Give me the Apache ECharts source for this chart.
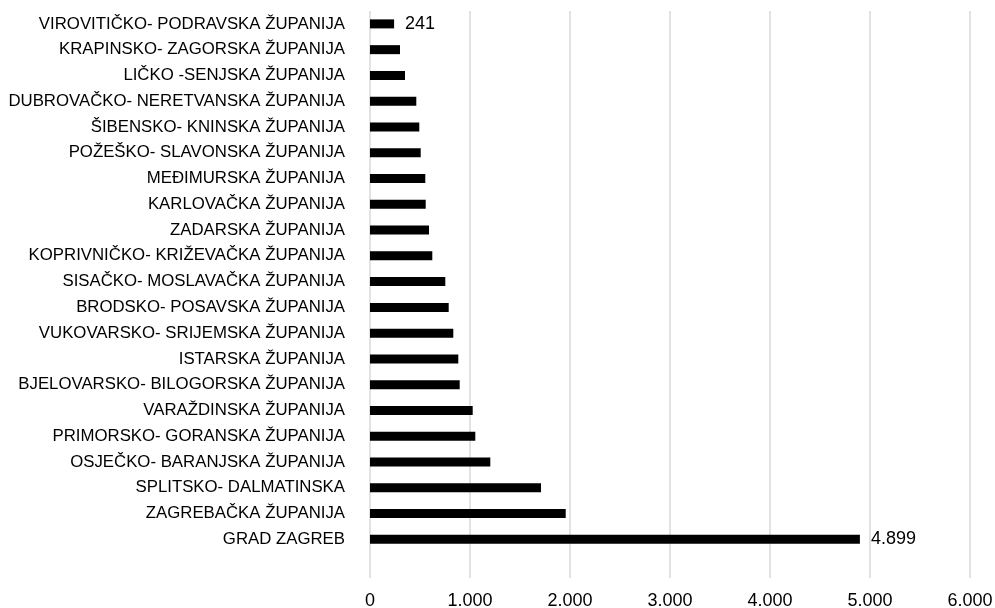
<!DOCTYPE html>
<html>
<head>
<meta charset="utf-8">
<script src="https://cdn.jsdelivr.net/npm/echarts@6/dist/echarts.min.js"></script>
<style>
  html, body { margin: 0; padding: 0; background: #fff; }
  #chart { width: 995px; height: 608px; }
</style>
</head>
<body>
<div id="chart"></div>
<script>
// Counties, listed top to bottom; the trailing blank slot leaves an empty band under the last bar
const counties = [
  'VIROVITIČKO- PODRAVSKA ŽUPANIJA',
  'KRAPINSKO- ZAGORSKA ŽUPANIJA',
  'LIČKO -SENJSKA ŽUPANIJA',
  'DUBROVAČKO- NERETVANSKA ŽUPANIJA',
  'ŠIBENSKO- KNINSKA ŽUPANIJA',
  'POŽEŠKO- SLAVONSKA ŽUPANIJA',
  'MEĐIMURSKA ŽUPANIJA',
  'KARLOVAČKA ŽUPANIJA',
  'ZADARSKA ŽUPANIJA',
  'KOPRIVNIČKO- KRIŽEVAČKA ŽUPANIJA',
  'SISAČKO- MOSLAVAČKA ŽUPANIJA',
  'BRODSKO- POSAVSKA ŽUPANIJA',
  'VUKOVARSKO- SRIJEMSKA ŽUPANIJA',
  'ISTARSKA ŽUPANIJA',
  'BJELOVARSKO- BILOGORSKA ŽUPANIJA',
  'VARAŽDINSKA ŽUPANIJA',
  'PRIMORSKO- GORANSKA ŽUPANIJA',
  'OSJEČKO- BARANJSKA ŽUPANIJA',
  'SPLITSKO- DALMATINSKA',
  'ZAGREBAČKA ŽUPANIJA',
  'GRAD ZAGREB',
  ''
];

const counts = [
  241, 300, 350, 463, 493, 507, 553, 557, 590, 623,
  753, 787, 833, 883, 897, 1027, 1053, 1203, 1710, 1957,
  4899, null
];

// Only the smallest and largest bars carry a value label
const labelledCounties = ['VIROVITIČKO- PODRAVSKA ŽUPANIJA', 'GRAD ZAGREB'];

const xTickMin = 0;
const xTickMax = 6000;
const xTickStep = 1000;

const fmt = v => String(v).replace(/\B(?=(\d{3})+(?!\d))/g, '.');

const chart = echarts.init(document.getElementById('chart'), null, { renderer: 'canvas' });

chart.setOption({
  animation: false,
  backgroundColor: '#ffffff',
  textStyle: { fontFamily: '"Liberation Sans", Arial, sans-serif' },
  grid: {
    left: 370, right: 25, top: 11, bottom: 30,
    containLabel: false,
    outerBoundsMode: 'none'
  },
  xAxis: {
    type: 'value',
    min: xTickMin,
    max: xTickMax,
    interval: xTickStep,
    axisLine: { show: false },
    axisTick: { show: false },
    splitLine: { show: true, lineStyle: { color: '#d9d9d9', width: 1.5 } },
    axisLabel: {
      color: '#000',
      fontSize: 18,
      margin: 14,
      formatter: fmt
    }
  },
  yAxis: {
    type: 'category',
    inverse: true,
    data: counties,
    axisLine: { show: false },
    axisTick: { show: false },
    splitLine: { show: false },
    axisLabel: {
      color: '#000',
      fontSize: 16.8,
      margin: 25,
      interval: 0
    }
  },
  series: [{
    type: 'bar',
    barWidth: 9,
    itemStyle: { color: '#000' },
    data: counts.map((v, i) => ({
      value: v,
      label: {
        show: labelledCounties.includes(counties[i]),
        position: 'right',
        distance: 11,
        color: '#000',
        fontSize: 18,
        formatter: p => fmt(p.value)
      }
    }))
  }]
});
</script>
</body>
</html>
